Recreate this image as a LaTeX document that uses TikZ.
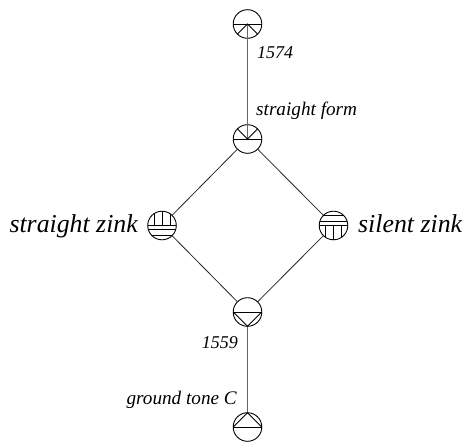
\documentclass[tikz,border=0pt]{standalone}
\usepackage{fontspec}
\setmainfont{Liberation Serif}
\usetikzlibrary{calc}
\tikzset{
  x=1pt,y=-1pt,
  tone/.style={circle,draw=black,line width=.9pt,minimum size=28.6pt,inner sep=0pt,outer sep=0pt},
  stem/.style={line width=1.3pt,draw=black!60},
  edge/.style={line width=.8pt,draw=black!85},
  inmark/.style={line width=.9pt,draw=black},
  small/.style={font=\itshape\fontsize{19.2}{22}\selectfont,inner sep=0pt},
  digits/.style={font=\itshape\fontsize{18}{22}\selectfont,inner sep=0pt},
  big/.style={font=\itshape\fontsize{25.8}{30}\selectfont,inner sep=0pt}
}
\begin{document}
\begin{tikzpicture}
\useasboundingbox (0,0) rectangle (465,444);
\node[tone] (top) at (247.5,24) {};
\node[tone] (up) at (247.5,139) {};
\node[tone] (lft) at (162,225.5) {};
\node[tone] (rgt) at (333.5,225.5) {};
\node[tone] (low) at (247.5,312) {};
\node[tone] (bot) at (247.5,427) {};
% connectors
\draw[stem] (top.center) -- (up.center);
\draw[stem] (low.south) -- (bot.north);
\draw[edge] (up) -- (lft);
\draw[edge] (up) -- (rgt);
\draw[edge] (low) -- (lft);
\draw[edge] (low) -- (rgt);
% inner marks: top
\draw[inmark] (top.west) -- (top.east);
\draw[inmark] (top.south west) -- (top.center) -- (top.south east);
% upper
\draw[inmark] (up.west) -- (up.east);
\draw[inmark] (up.north west) -- (up.center) -- (up.north east);
% lower
\draw[inmark] (low.west) -- (low.east);
\draw[inmark] (low.west) -- (low.south) -- (low.east);
% bottom
\draw[inmark] (bot.west) -- (bot.east);
\draw[inmark] (bot.west) -- (bot.north) -- (bot.east);
% left zink
\draw[inmark] (lft.west) -- (lft.east);
\draw[inmark] ($(lft.center)+(-13.7,4)$) -- ($(lft.center)+(13.7,4)$);
\draw[inmark] ($(lft.center)+(-10.2,10)$) -- ($(lft.center)+(10.2,10)$);
\draw[inmark] ($(lft.center)+(-8,0)$) -- ($(lft.center)+(-8,-11.9)$);
\draw[inmark] (lft.center) -- (lft.north);
\draw[inmark] ($(lft.center)+(8,0)$) -- ($(lft.center)+(8,-11.9)$);
% right zink
\draw[inmark] (rgt.west) -- (rgt.east);
\draw[inmark] ($(rgt.center)+(-13.7,-4)$) -- ($(rgt.center)+(13.7,-4)$);
\draw[inmark] ($(rgt.center)+(-10.2,-10)$) -- ($(rgt.center)+(10.2,-10)$);
\draw[inmark] ($(rgt.center)+(-8,0)$) -- ($(rgt.center)+(-8,11.9)$);
\draw[inmark] (rgt.center) -- (rgt.south);
\draw[inmark] ($(rgt.center)+(8,0)$) -- ($(rgt.center)+(8,11.9)$);
% labels
\node[digits,anchor=base west] (l1) at (257,59) {1574};
\node[small,anchor=base west] (l2) at (256,115) {straight form};
\node[digits,anchor=base east] (l3) at (238,348) {1559};
\node[small,anchor=base east] (l4) at (237,404) {ground tone C};
\node[big,anchor=base east] (l5) at (138,232) {straight zink};
\node[big,anchor=base west] (l6) at (358,232) {silent zink};
\end{tikzpicture}
\end{document}
